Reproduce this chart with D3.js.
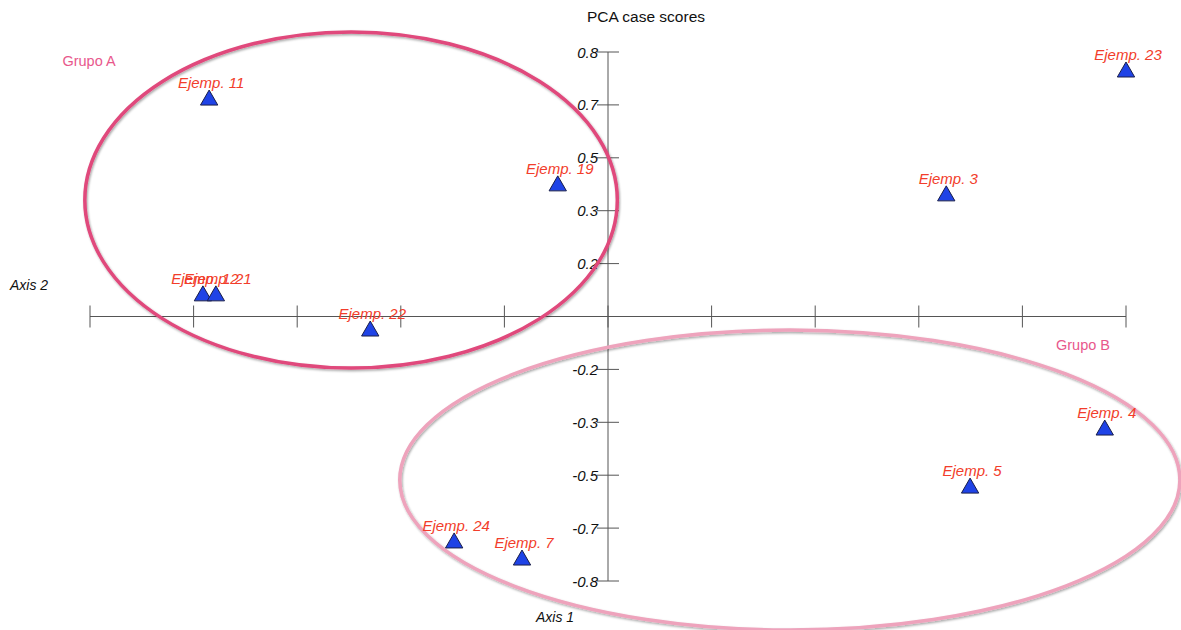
<!DOCTYPE html>
<html lang="es">
<head>
	<meta charset="UTF-8"/>
	<title>PCA case scores</title>
	<script src="https://d3js.org/d3.v7.min.js"></script>
	<style>
		body{ margin:0; background:#fff; }
		text{ font-family: Helvetica, Arial, "Liberation Sans", sans-serif; }
	</style>
</head>
<body>
	<script>
	// case scores
	var names = ["Ejemp. 11","Ejemp. 19","Ejemp. 12","Ejemp. 21","Ejemp. 22","Ejemp. 3",
				 "Ejemp. 23","Ejemp. 4","Ejemp. 5","Ejemp. 24","Ejemp. 7"];
	var axis1 = [-0.770,-0.097,-0.782,-0.757,-0.459,0.653,1.000,0.959,0.699,-0.297,-0.166];
	var axis2 = [0.671,0.405,0.064,0.064,-0.045,0.374,0.758,-0.352,-0.532,-0.702,-0.755];

	var xTicks = [-1,-0.8,-0.6,-0.4,-0.2,0,0.2,0.4,0.6,0.8,1];
	var yTicks = [0.82,0.656,0.492,0.328,0.164,-0.164,-0.328,-0.492,-0.656,-0.82];
	var yTickLabels = ["0.8","0.7","0.5","0.3","0.2","-0.2","-0.3","-0.5","-0.7","-0.8"];

	// group ellipses (data units)
	var groupNames = ["Grupo A","Grupo B"];
	var groupCx = [-0.496, 0.351];
	var groupCy = [0.361, -0.507];
	var groupRx = [0.514, 0.753];
	var groupRy = [0.521, 0.465];

	var w = 1181;
	var h = 630;

	var x = d3.scaleLinear().domain([-1,1]).range([90,1126]);
	var y = d3.scaleLinear().domain([-0.82,0.82]).range([581,52]);

	var svg = d3.select("body")
				.append("svg")
				.attr("width", w)
				.attr("height", h);

	var defs = svg.append("defs");
	defs.append("filter")
		.attr("id","shadow")
		.attr("x","-10%").attr("y","-10%")
		.attr("width","120%").attr("height","120%")
		.append("feDropShadow")
		.attr("dx",1).attr("dy",1.5)
		.attr("stdDeviation",1)
		.attr("flood-color","#000")
		.attr("flood-opacity",0.35);

	svg.append("text")
		.attr("x", 646).attr("y", 22)
		.attr("text-anchor","middle")
		.style("font-size","15.5px")
		.style("fill","#111")
		.text("PCA case scores");

	// horizontal axis
	svg.append("line")
		.attr("x1", x(-1)).attr("x2", x(1))
		.attr("y1", y(0)).attr("y2", y(0))
		.style("stroke","#555");
	svg.selectAll(".xtick")
		.data(xTicks)
		.enter()
		.append("line")
		.attr("class","xtick")
		.attr("x1", function(d){ return x(d); })
		.attr("x2", function(d){ return x(d); })
		.attr("y1", y(0) - 11)
		.attr("y2", y(0) + 11)
		.style("stroke","#555");

	// vertical axis
	svg.append("line")
		.attr("x1", x(0)).attr("x2", x(0))
		.attr("y1", y(0.82)).attr("y2", y(-0.82))
		.style("stroke","#555");
	svg.selectAll(".ytick")
		.data(yTicks)
		.enter()
		.append("line")
		.attr("class","ytick")
		.attr("x1", x(0) - 11)
		.attr("x2", x(0) + 11)
		.attr("y1", function(d){ return y(d); })
		.attr("y2", function(d){ return y(d); })
		.style("stroke","#555");
	svg.selectAll(".ylab")
		.data(yTicks)
		.enter()
		.append("text")
		.attr("class","ylab")
		.attr("x", x(0) - 10)
		.attr("y", function(d){ return y(d) + 5.5; })
		.attr("text-anchor","end")
		.style("font-size","15px")
		.style("font-style","italic")
		.style("fill","#111")
		.text(function(d,i){ return yTickLabels[i]; });

	svg.append("text")
		.attr("x", 10).attr("y", 290)
		.style("font-size","14px")
		.style("font-style","italic")
		.style("fill","#111")
		.text("Axis 2");
	svg.append("text")
		.attr("x", 555).attr("y", 622)
		.attr("text-anchor","middle")
		.style("font-size","14px")
		.style("font-style","italic")
		.style("fill","#111")
		.text("Axis 1");

	// group ellipses
	var ellColors = ["#e0487b","#eea3bc"];
	svg.selectAll(".grp")
		.data(groupNames)
		.enter()
		.append("ellipse")
		.attr("class","grp")
		.attr("cx", function(d,i){ return x(groupCx[i]); })
		.attr("cy", function(d,i){ return y(groupCy[i]); })
		.attr("rx", function(d,i){ return x(groupRx[i]) - x(0); })
		.attr("ry", function(d,i){ return y(0) - y(groupRy[i]); })
		.style("fill","none")
		.style("stroke", function(d,i){ return ellColors[i]; })
		.style("stroke-width", 3.5)
		.attr("filter","url(#shadow)");

	svg.append("text")
		.attr("x", 89).attr("y", 66)
		.attr("text-anchor","middle")
		.style("font-size","14.5px")
		.style("fill","#e8588c")
		.text(groupNames[0]);
	svg.append("text")
		.attr("x", 1083).attr("y", 350)
		.attr("text-anchor","middle")
		.style("font-size","14.5px")
		.style("fill","#e8588c")
		.text(groupNames[1]);

	// points
	var tri = d3.symbol().type(d3.symbolTriangle).size(130);
	svg.selectAll(".pt")
		.data(names)
		.enter()
		.append("path")
		.attr("class","pt")
		.attr("d", tri)
		.attr("transform", function(d,i){
			return "translate(" + x(axis1[i]) + "," + y(axis2[i]) + ")";
		})
		.style("fill","#1f43e6")
		.style("stroke","#1a1f4a")
		.style("stroke-width",1);

	svg.selectAll(".lab")
		.data(names)
		.enter()
		.append("text")
		.attr("class","lab")
		.attr("x", function(d,i){ return x(axis1[i]) + 2; })
		.attr("y", function(d,i){ return y(axis2[i]) - 12; })
		.attr("text-anchor","middle")
		.style("font-size","15px")
		.style("font-style","italic")
		.style("fill","#f23d2b")
		.text(function(d){ return d; });
	</script>
</body>
</html>
